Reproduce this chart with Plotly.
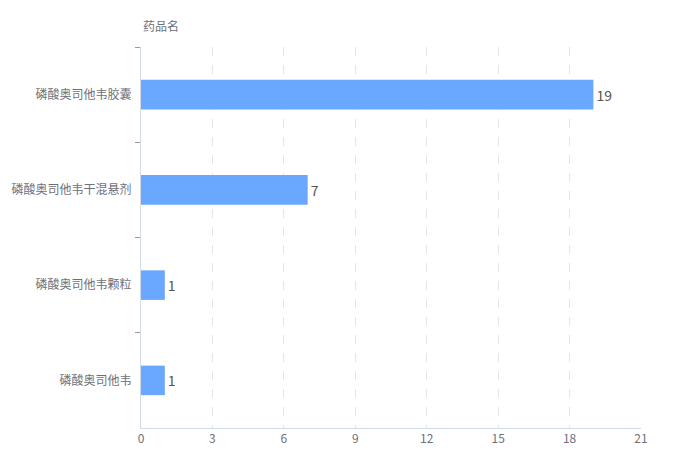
import plotly.graph_objects as go

# drug names, top to bottom as in the chart
drugs = ["磷酸奥司他韦胶囊", "磷酸奥司他韦干混悬剂", "磷酸奥司他韦颗粒", "磷酸奥司他韦"]
counts = [19, 7, 1, 1]
x_ticks = [0, 3, 6, 9, 12, 15, 18, 21]

font_family = "Noto Sans CJK SC, Noto Sans, sans-serif"
text_color = "#6e7079"

fig = go.Figure(
    go.Bar(
        x=counts,
        y=drugs,
        orientation="h",
        marker=dict(color="#6aa8ff", line=dict(width=0)),
        text=counts,
        textposition="outside",
        textfont=dict(color="#555555", size=14),
        cliponaxis=False,
        width=0.31,
    )
)

# page body adds an 8px offset, so margins are shifted to compensate
fig.update_layout(
    width=700,
    height=457,
    margin=dict(l=133, r=67, t=39, b=37),
    plot_bgcolor="white",
    paper_bgcolor="white",
    font=dict(family=font_family, size=12, color=text_color),
    showlegend=False,
    annotations=[
        dict(
            text="药品名",
            xref="paper", yref="paper",
            x=0, y=1, yshift=11,
            xanchor="left", yanchor="bottom",
            showarrow=False,
            font=dict(size=12, color=text_color),
        )
    ],
)

fig.update_xaxes(
    range=[0, 21],
    tickvals=x_ticks,
    showgrid=True,
    gridcolor="#e0e6f1",
    griddash="dash",
    zeroline=False,
    showline=True,
    linecolor="#d5dbe6",
    ticks="",
    automargin=False,
    tickfont=dict(size=12, color=text_color),
)

fig.update_yaxes(
    autorange="reversed",
    showgrid=False,
    showline=True,
    linecolor="#d5dbe6",
    ticks="outside",
    tickson="boundaries",
    ticklen=5,
    tickcolor="#999999",
    ticklabelstandoff=6,
    automargin=False,
    tickfont=dict(size=12, color=text_color),
)

fig.write_html("out.html")
